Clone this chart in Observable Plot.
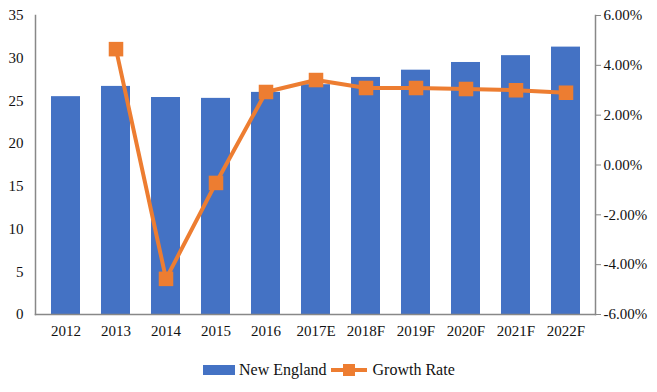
<!DOCTYPE html>
<html><head><meta charset="utf-8">
<script src="https://cdn.jsdelivr.net/npm/d3@7"></script>
<script src="https://cdn.jsdelivr.net/npm/@observablehq/plot@0.6"></script>
<style>
body{margin:0;background:#fff;font-family:'Liberation Serif','Times New Roman',serif;}
#legend{display:flex;justify-content:flex-start;align-items:center;font-size:16px;color:#111;margin-top:15px;padding-left:203px;height:20px;}
#legend span{display:flex;align-items:center;gap:4px;}
svg text{font-family:'Liberation Serif','Times New Roman',serif;}
</style>
</head><body><div id="chart"></div>
<div id="legend">
<span><svg width="32" height="10"><rect x="0" y="0" width="32" height="10" fill="#4472C4"/></svg>New England</span>
<span style="margin-left:4px"><svg width="36" height="14"><line x1="0" x2="36" y1="7" y2="7" stroke="#ED7D31" stroke-width="4"/><rect x="12" y="1" width="12" height="12" fill="#ED7D31"/></svg><span style="margin-left:2px">Growth Rate</span></span>
</div>
<script>
const years = ["2012","2013","2014","2015","2016","2017E","2018F","2019F","2020F","2021F","2022F"];
const market = [25.5, 26.7, 25.4, 25.3, 26.0, 26.9, 27.75, 28.6, 29.5, 30.3, 31.3];
const growth = [null, 4.65, -4.57, -0.72, 2.93, 3.41, 3.09, 3.09, 3.05, 3.0, 2.9];
const leftTicks = [0, 5, 10, 15, 20, 25, 30, 35];
const rightTicks = [-6, -4, -2, 0, 2, 4, 6];

const yMax = 35;
const toLeft = g => (g + 6) / 12 * yMax;
const toRight = v => v / yMax * 12 - 6;

const bars = years.map((y, i) => ({year: y, value: market[i]}));
const pts = years.map((y, i) => ({year: y, g: growth[i]})).filter(d => d.g != null);

const plot = Plot.plot({
  width: 657,
  height: 345,
  marginTop: 15,
  marginBottom: 31,
  marginLeft: 35,
  marginRight: 62,
  style: {fontFamily: "'Liberation Serif', 'Times New Roman', serif", fontSize: "15px", color: "#111", background: "#fff"},
  x: {domain: years, paddingInner: 0.43, paddingOuter: 0.215, label: null},
  y: {domain: [0, yMax], label: null},
  marks: [
    Plot.barY(bars, {x: "year", y: "value", fill: "#4472C4"}),
    Plot.line(pts, {x: "year", y: d => toLeft(d.g), stroke: "#ED7D31", strokeWidth: 4}),
    Plot.dot(pts, {x: "year", y: d => toLeft(d.g), symbol: "square", r: 8.2, fill: "#ED7D31", stroke: null}),
    Plot.axisX({tickSize: 0, tickPadding: 11, label: null}),
    Plot.axisY(leftTicks, {anchor: "left", tickSize: 0, tickPadding: 12, label: null}),
    Plot.axisY(rightTicks.map(toLeft), {anchor: "right", tickSize: 5, tickPadding: 3, stroke: "#888", label: null,
      tickFormat: v => toRight(v).toFixed(2) + "%"}),
    Plot.frame({anchor: "left", stroke: "#888", strokeWidth: 1.5}),
    Plot.frame({anchor: "right", stroke: "#888", strokeWidth: 1.5}),
    Plot.frame({anchor: "bottom", stroke: "#888", strokeWidth: 1.5})
  ]
});
document.getElementById("chart").appendChild(plot);
</script>
</body></html>
